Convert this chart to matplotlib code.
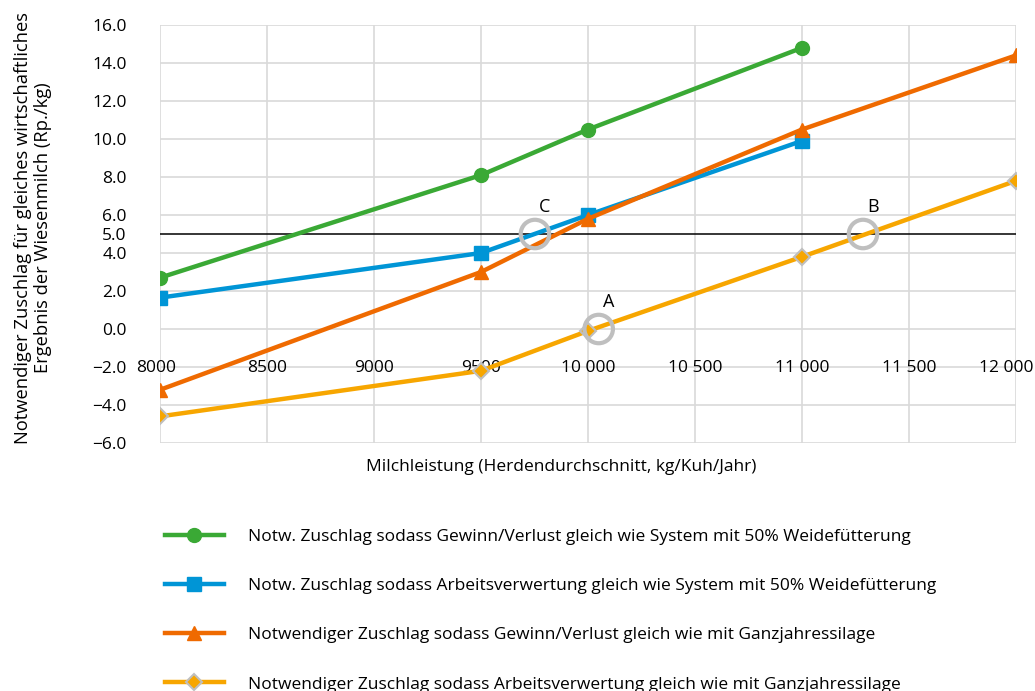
import matplotlib
matplotlib.use("Agg")
import matplotlib.pyplot as plt
from matplotlib import font_manager
from matplotlib.transforms import offset_copy

avail = {f.name for f in font_manager.fontManager.ttflist}
fam = [f for f in ["Liberation Sans Narrow", "Open Sans", "DejaVu Sans"] if f in avail]
plt.rcParams['font.family'] = fam + ["DejaVu Sans"]

# Data
x_short = [8000, 9500, 10000, 11000]
x_long = [8000, 9500, 10000, 11000, 12000]
green = [2.7, 8.1, 10.5, 14.8]
blue = [1.65, 4.0, 6.0, 9.9]
orange = [-3.2, 3.0, 5.8, 10.5, 14.4]
yellow = [-4.6, -2.2, -0.1, 3.8, 7.8]
labels = [
    "Notw. Zuschlag sodass Gewinn/Verlust gleich wie System mit 50% Weidefütterung",
    "Notw. Zuschlag sodass Arbeitsverwertung gleich wie System mit 50% Weidefütterung",
    "Notwendiger Zuschlag sodass Gewinn/Verlust gleich wie mit Ganzjahressilage",
    "Notwendiger Zuschlag sodass Arbeitsverwertung gleich wie mit Ganzjahressilage",
]
xticks = [8000, 8500, 9000, 9500, 10000, 10500, 11000, 11500, 12000]
xticklabels = ["8000", "8500", "9000", "9500", "10 000", "10 500", "11 000", "11 500", "12 000"]
yticks = [-6, -4, -2, 0, 2, 4, 5, 6, 8, 10, 12, 14, 16]
ygrid = [-6, -4, -2, 0, 2, 4, 6, 8, 10, 12, 14, 16]
ref_level = 5.0
points_x = [10050, 11285, 9752]
points_y = [0.0, 5.0, 5.0]
points_lbl = ["A", "B", "C"]

W, H = 1035, 691
fig = plt.figure(figsize=(W / 100, H / 100), dpi=100)
ax = fig.add_axes([160 / W, 1 - 443 / H, (1016 - 160) / W, (443 - 25) / H])
ax.set_xlim(8000, 12000)
ax.set_ylim(-6, 16)

for g in ygrid:
    ax.axhline(g, color="#d9d9d9", lw=1.2, zorder=0)
for g in xticks:
    ax.axvline(g, color="#d9d9d9", lw=1.2, zorder=0)
ax.axhline(ref_level, color="black", lw=1.1, zorder=1)

c_green = "#3aa935"
c_blue = "#0095d6"
c_orange = "#ef6a00"
c_yellow = "#f7a600"

ax.plot(x_short, green, color=c_green, lw=3.2, marker="o", ms=10, zorder=3, label=labels[0])
ax.plot(x_short, blue, color=c_blue, lw=3.2, marker="s", ms=10.5, zorder=3, label=labels[1])
ax.plot(x_long, orange, color=c_orange, lw=3.2, marker="^", ms=10.5, zorder=3, label=labels[2])
ax.plot(x_long, yellow, color=c_yellow, lw=3.2, marker="D", ms=8, mec="#bfbfbf", mew=1.5,
        zorder=3, label=labels[3])

ax.scatter(points_x, points_y, s=420, facecolors="none", edgecolors="#bfbfbf", linewidths=3, zorder=4)
for px, py, t in zip(points_x, points_y, points_lbl):
    ax.annotate(t, (px, py), xytext=(7, 13), textcoords="offset points", ha="center",
                va="bottom", fontsize=13)

for s in ax.spines.values():
    s.set_visible(False)
ax.spines['bottom'].set_position(('data', 0))
ax.set_xticks(xticks)
ax.set_xticklabels(xticklabels, fontsize=12.5)
ax.set_yticks(yticks)
ax.set_yticklabels([f"{v:.1f}".replace("-", "\u2212") for v in yticks], fontsize=12.5)
ax.tick_params(axis="x", length=0, pad=22)
ax.tick_params(axis="y", length=0, pad=24)
# keep last x label inside the figure like the reference
xl = ax.get_xticklabels()
xl[-1].set_transform(offset_copy(xl[-1].get_transform(), fig=fig, x=-10, y=0, units="dots"))
xl[0].set_transform(offset_copy(xl[0].get_transform(), fig=fig, x=-4, y=0, units="dots"))

fig.text(561 / W, 1 - 467 / H, "Milchleistung (Herdendurchschnitt, kg/Kuh/Jahr)",
         ha="center", va="center", fontsize=12.5)
fig.text(33 / W, 1 - 228 / H,
         "Notwendiger Zuschlag für gleiches wirtschaftliches\nErgebnis der Wiesenmilch (Rp./kg)",
         ha="center", va="center", rotation=90, fontsize=13.2, linespacing=1.1)

fig.legend(loc="upper left", bbox_to_anchor=(158 / W, 1 - 522 / H), frameon=False,
           fontsize=12.5, handlelength=3.4, handletextpad=1.4, labelspacing=1.9,
           borderaxespad=0)

fig.savefig("out.png", dpi=100)
